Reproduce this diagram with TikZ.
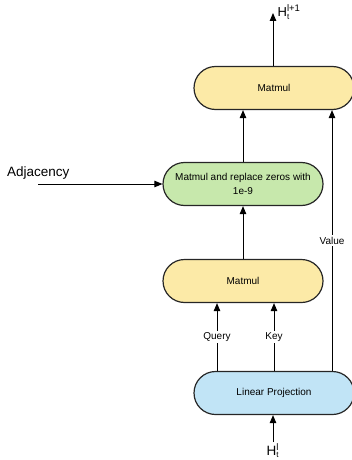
\documentclass[tikz,border=0pt]{standalone}
\usepackage{fontspec}
\setmainfont{Liberation Sans}
\usetikzlibrary{calc,shapes.misc,arrows.meta}
\definecolor{mulyellow}{RGB}{252,234,167}
\definecolor{maskgreen}{RGB}{199,232,172}
\definecolor{projblue}{RGB}{193,228,246}
\newcommand{\hidstate}[1]{H\rlap{\raisebox{-2pt}{\fontsize{8}{8}\selectfont t}}\raisebox{5pt}{\fontsize{9.5}{10}\selectfont #1}}

\begin{document}
\begin{tikzpicture}[x=1pt,y=-1pt,
    block/.style={rounded rectangle, draw=black!85, line width=1.2pt, minimum width=164pt, minimum height=43pt, inner sep=2pt, align=center, font=\fontsize{10}{14}\selectfont},
    flow/.style={-{Triangle[length=8pt,width=6.5pt]}, line width=1pt},
    tag/.style={fill=white, inner sep=1.5pt, font=\fontsize{10}{12}\selectfont}]
    \useasboundingbox (0,0) rectangle (351,460);

    \coordinate (QueryX) at (217,0);
    \coordinate (KeyX) at (274,0);
    \coordinate (ValueX) at (332,0);
    \coordinate (InTop) at (273,442);
    \coordinate (OutTop) at (273,13);
    \coordinate (AdjStart) at (38,184);

    \node[block, fill=projblue] (proj) at (274,393) {Linear Projection};
    \node[block, fill=mulyellow] (scores) at (243,281) {Matmul};
    \node[block, fill=maskgreen] (mask) at (243,184) {Matmul and replace zeros with\\1e-9};
    \node[block, fill=mulyellow] (attend) at (274,88) {Matmul};

    \node[anchor=base west, inner sep=0pt, font=\fontsize{13.5}{15}\selectfont] (hin) at (266.5,455) {\hidstate{l}};
    \node[anchor=base west, inner sep=0pt, font=\fontsize{13}{15}\selectfont] (hout) at (277.5,17) {\hidstate{l+1}};
    \node[anchor=base west, inner sep=0pt, font=\fontsize{13.5}{16}\selectfont] (adj) at (7,176) {Adjacency};

    \draw[flow] (InTop) -- (proj.south -| InTop);
    \draw[flow] (proj.north -| QueryX) -- node[tag] {Query} (scores.south -| QueryX);
    \draw[flow] (proj.north -| KeyX) -- node[tag] {Key} (scores.south -| KeyX);
    \draw[flow] (proj.north -| ValueX) -- node[tag] {Value} (attend.south -| ValueX);
    \draw[flow] (scores.north) -- (mask.south);
    \draw[flow] (AdjStart) -- (mask.west);
    \draw[flow] (mask.north) -- (attend.south -| mask.north);
    \draw[flow] (attend.north -| OutTop) -- (OutTop);
\end{tikzpicture}
\end{document}
